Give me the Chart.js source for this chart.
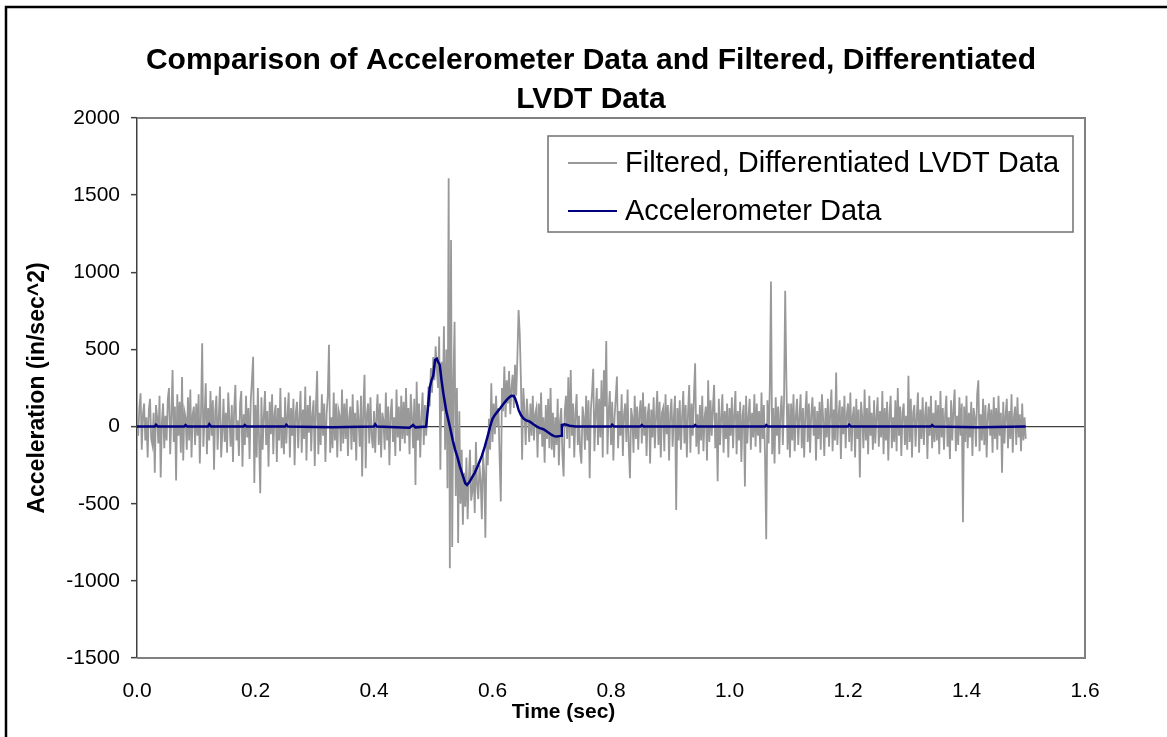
<!DOCTYPE html>
<html>
<head>
<meta charset="utf-8">
<script src="https://cdn.jsdelivr.net/npm/chart.js@4.4.1/dist/chart.umd.min.js"></script>
<style>
  html, body { margin: 0; padding: 0; background: #fff; }
  canvas { display: block; }
</style>
</head>
<body>
<canvas id="accelChart" width="1167" height="737"></canvas>
<script>
const titleLines = ['Comparison of Accelerometer Data and Filtered, Differentiated', 'LVDT Data'];
const xAxisTitle = 'Time (sec)';
const yAxisTitle = 'Acceleration (in/sec^2)';
const seriesNames = ['Filtered, Differentiated LVDT Data', 'Accelerometer Data'];
const xTicks = [0.0, 0.2, 0.4, 0.6, 0.8, 1.0, 1.2, 1.4, 1.6];
const yTicks = [-1500, -1000, -500, 0, 500, 1000, 1500, 2000];

// LVDT samples, one every 0.002 sec from t = 0
const lvdtStep = 0.002;
const lvdtValues = [
  40, -60, 120, 216, -150, 80, 150, -90, 60, -200, 110, 180, -80, -120, 90, -300, 140, 60, -110, 200, -330, 30, 150, -140, 70,
  -90, 180, 250, -180, 60, 367, -100, 130, -350, 210, -60, 160, -170, 321, -220, 100, 60, -150, 190, -90, 240, -200, 80, 130, -120,
  150, -60, 210, -240, 90, 540, -130, 60, 280, -180, 120, -90, 230, -60, 170, -280, 100, 200, -150, 60, 260, -200, -40, 180, -100,
  90, -170, 220, 50, -130, 140, -230, 110, 270, -90, 40, -190, 150, 230, -260, 80, -120, 200, -70, 120, -210, 170, 300, 453, -365,
  140, -200, 250, -80, -432, 190, -150, 60, 230, -120, 100, -260, 160, -50, 210, -180, 80, 140, -230, 120, -90, 250, -140, 60, -180,
  190, -110, 70, 220, -200, 120, -60, 180, -250, 90, 160, -140, 60, 230, -170, 110, -80, 260, -220, 140, -40, 200, -160, 80, 170,
  -255, 130, 360, -180, 90, -120, 210, -60, 150, -230, 80, 200, 530, -170, 60, -140, 220, -90, 150, -200, 110, 70, -160, 240, -110,
  150, -80, 180, -190, 60, 130, -150, 210, -100, 90, -220, 170, 40, -130, 200, -323, 120, 335, -270, 80, 150, -110, 190, -60, -140,
  100, -170, 60, 210, -120, 150, -200, 90, 40, -150, 220, -90, 130, -250, 80, 180, -100, 60, -190, 240, -70, 130, -160, 200, -80,
  160, -110, 250, -60, 120, -180, 210, 70, -140, 180, -378, 290, -90, 150, -200, 60, 220, -120, 140, -60, 90, 260, 130, 380, 220,
  450, 300, 520, 380, 250, 583, -280, 420, 100, 650, -150, 500, -400, 1610, -918, 1210, -780, 300, 680, -450, 250, -755, 100, -500, -150,
  -637, -300, -520, -200, -600, -350, -150, -480, -420, -250, -560, -100, -380, -470, -250, -350, -600, -180, -300, -720, -100, -250, 50, -150, 280,
  -100, 150, -50, 200, 0, 120, -200, -486, 250, 100, 389, 60, 300, 150, 360, 80, 250, 335, 120, 400, 200, 450, 756, 605, 300,
  -215, 250, 100, -120, 180, 60, -100, 150, -60, 200, -90, 80, 120, -200, 150, -50, 220, -130, 60, -235, 140, -80, 180, -140, 250,
  -150, 90, -200, 60, -120, 180, -250, 40, 120, -180, -324, 100, 200, -80, 320, -140, 367, -60, 150, -200, 90, 210, -120, 70, -160,
  -240, 130, 60, -150, 200, -90, 170, -335, 110, 220, 375, -160, 80, 250, -120, 180, -70, 300, -200, 365, 130, 555, -180, 90, 230,
  -120, 160, -220, 60, 190, 325, -140, 100, -60, 210, -190, 80, 150, -100, 240, -130, -335, 120, 60, -170, 200, -80, 130, -150, 90,
  170, -110, 220, -60, 130, -190, 80, 150, -240, 110, -70, 190, -140, 60, 230, -120, 160, -200, 90, 120, -160, 210, -50, 140, -220,
  80, 180, -130, 60, 200, -540, 120, -90, 170, -150, 60, 230, -110, 140, -200, 90, 270, -170, 150, -60, 200, 411, -130, 80, -180,
  140, -90, 200, -160, 60, 130, -220, 300, -100, 170, -60, 120, 270, -140, 90, -355, 180, -120, 60, 210, -170, 100, -80, 150, -200,
  120, -60, 190, -140, 80, 230, -180, 100, -90, 160, -230, 70, 140, -389, 200, -110, 60, 180, -150, 90, -70, 210, -130, 150, -60,
  100, -170, 220, -80, 140, -200, -730, 170, -110, 250, 940, -180, 120, -240, 190, -60, 130, -180, 90, 200, -120, 160, 880, 300, -150,
  150, -200, 150, -90, 210, -160, 70, 180, -120, 60, 210, -140, 120, -200, 90, 230, -100, 150, -170, 80, 190, -60, 130, -220, 100,
  -80, 160, -150, 210, 60, -190, 120, -70, 180, -130, 90, 240, -160, 110, -90, 350, -120, 60, 170, -210, 130, -50, 200, -140, 80,
  150, -100, 220, -160, 70, 130, -200, 180, -80, 110, -330, 160, 60, -140, 240, -90, 120, -180, 200, -60, 90, -150, 170, -110, 60,
  190, -130, 100, -70, 230, -180, 120, -90, 160, -220, 80, 200, -140, 60, -100, 170, -160, 250, -60, 130, -190, 90, 150, -120, 70,
  -150, 330, -100, 180, -200, 90, 140, -130, 60, 220, -170, 110, -80, 190, -120, 70, 160, -210, 130, -60, 200, -140, 90, -100, 170,
  -90, 140, -180, 230, -70, 120, -150, 80, 200, -130, 60, -210, 170, -90, 110, 240, -160, 70, -120, 190, -60, 150, -620, 130, -100,
  200, -140, 90, -70, 160, -190, 120, 60, -130, 210, 300, -160, 80, -90, 180, -120, 140, -200, 70, 150, -60, 110, -170, 190, -80,
  120, -150, 200, -60, 90, -300, 160, -110, 70, 180, -140, 100, -80, 210, -170, 60, 130, -120, 190, -70, 80, -160, 150, -90, 60,
  -80
];

// accelerometer trace (sec, in/sec^2)
const accelTimes = [
  0, 0.030, 0.032, 0.035, 0.080, 0.082, 0.085, 0.120, 0.122, 0.125, 0.180, 0.182, 0.185,
  0.250, 0.252, 0.255, 0.330, 0.400, 0.402, 0.405, 0.460, 0.466, 0.470, 0.488,
  0.491, 0.494, 0.497, 0.500, 0.503, 0.506, 0.508, 0.511, 0.514, 0.517, 0.522, 0.528,
  0.533, 0.537, 0.541, 0.545, 0.550, 0.554, 0.557, 0.561, 0.565, 0.570, 0.576, 0.582,
  0.587, 0.592, 0.596, 0.600, 0.604, 0.609, 0.613, 0.618, 0.624, 0.629, 0.632, 0.636,
  0.638, 0.641, 0.644, 0.648, 0.652, 0.657, 0.663, 0.669, 0.675, 0.680, 0.686, 0.693,
  0.700, 0.704, 0.708, 0.713, 0.716, 0.717, 0.722, 0.730, 0.740, 0.800, 0.802, 0.805,
  0.850, 0.852, 0.855, 0.940, 0.942, 0.945, 1.060, 1.062, 1.065, 1.200, 1.202, 1.205,
  1.340, 1.342, 1.345, 1.420, 1.500
];
const accelValues = [
  0, 0, 12, 0, 0, 10, 0, 0, 15, 0, 0, 10, 0,
  0, 12, 0, -5, 0, 15, 0, -8, 10, -5, 0,
  120, 250, 300, 330, 432, 440, 420, 400, 300, 216, 100, 0,
  -90, -151, -200, -259, -320, -367, -378, -360, -333, -300, -248, -190,
  -130, -60, 0, 50, 76, 100, 119, 145, 173, 192, 200, 198,
  185, 150, 108, 75, 54, 40, 32, 15, 0, -10, -17, -35,
  -54, -62, -65, -62, -60, 10, 15, 5, 0, 0, 12, 0,
  0, 10, 0, 0, 10, 0, 0, 10, 0, 0, 12, 0,
  0, 10, 0, -5, 0
];

const FONT = "'Liberation Sans', Arial, sans-serif";

const lvdtPoints = lvdtValues.map((v, i) => ({ x: +(i * lvdtStep).toFixed(3), y: v }));
const accelPoints = accelTimes.map((t, i) => ({ x: t, y: accelValues[i] }));

// white page with the black frame round it
const framePlugin = {
  id: 'frame',
  beforeDraw(chart) {
    const c = chart.ctx;
    c.save();
    c.fillStyle = '#fff';
    c.fillRect(0, 0, chart.width, chart.height);
    c.strokeStyle = '#000';
    c.lineWidth = 2.5;
    c.strokeRect(6, 7, chart.width + 10, chart.height + 10);
    c.restore();
  }
};

// gray box on top, right and bottom of the plot area
const plotBorderPlugin = {
  id: 'plotBorder',
  beforeDatasetsDraw(chart) {
    const { left, right, top, bottom } = chart.chartArea;
    const c = chart.ctx;
    c.save();
    c.strokeStyle = '#808080';
    c.lineWidth = 2;
    c.beginPath();
    c.moveTo(left, top);
    c.lineTo(right, top);
    c.lineTo(right, bottom);
    c.lineTo(left, bottom);
    c.stroke();
    c.restore();
  }
};

// chart title and x title, both sit left of the plot centre as in the original
const titlesPlugin = {
  id: 'titles',
  afterDraw(chart) {
    const c = chart.ctx;
    const xs = chart.scales.x;
    c.save();
    c.fillStyle = '#000';
    c.textAlign = 'center';
    c.textBaseline = 'middle';
    c.font = 'bold 30px ' + FONT;
    titleLines.forEach((line, i) => c.fillText(line, 591, 61 + i * 39));
    c.font = 'bold 21px ' + FONT;
    c.fillText(xAxisTitle, xs.getPixelForValue(0.72), 712);
    c.restore();
  }
};

const boxLegendPlugin = {
  id: 'boxLegend',
  afterDraw(chart) {
    const c = chart.ctx;
    const box = { x: 548, y: 136, w: 525, h: 96 };
    c.save();
    c.fillStyle = '#fff';
    c.fillRect(box.x, box.y, box.w, box.h);
    c.strokeStyle = '#707070';
    c.lineWidth = 1.5;
    c.strokeRect(box.x, box.y, box.w, box.h);
    c.font = '29px ' + FONT;
    c.textBaseline = 'middle';
    c.fillStyle = '#000';
    chart.data.datasets.forEach((ds, i) => {
      const y = box.y + 27 + i * 48;
      c.strokeStyle = ds.borderColor;
      c.lineWidth = 2;
      c.beginPath();
      c.moveTo(box.x + 20, y);
      c.lineTo(box.x + 69, y);
      c.stroke();
      c.fillText(ds.label, box.x + 77, y + 1);
    });
    c.restore();
  }
};

new Chart(document.getElementById('accelChart').getContext('2d'), {
  type: 'line',
  data: {
    datasets: [
      { label: seriesNames[0], data: lvdtPoints, borderColor: '#999999', borderWidth: 1.8, pointRadius: 0, order: 1 },
      { label: seriesNames[1], data: accelPoints, borderColor: '#000080', borderWidth: 2.5, pointRadius: 0, order: 0 }
    ]
  },
  options: {
    responsive: false,
    animation: false,
    events: [],
    layout: { padding: { left: 0, right: 82, top: 118, bottom: 0 } },
    plugins: {
      legend: { display: false },
      tooltip: { enabled: false },
      title: { display: false }
    },
    scales: {
      x: {
        type: 'linear',
        min: 0,
        max: 1.6,
        afterFit: s => { s.height = 79; },
        afterBuildTicks: s => { s.ticks = xTicks.map(v => ({ value: v })); },
        grid: { display: false },
        border: { display: false },
        ticks: {
          color: '#000',
          font: { family: FONT, size: 21 },
          padding: 13,
          maxRotation: 0,
          callback: v => v.toFixed(1)
        }
      },
      y: {
        min: -1500,
        max: 2000,
        afterFit: s => { s.width = 137; },
        afterBuildTicks: s => { s.ticks = yTicks.map(v => ({ value: v })); },
        border: { display: true, color: '#404040', width: 1.5 },
        grid: {
          color: ctx => (ctx.tick && ctx.tick.value === 0 ? '#404040' : 'rgba(0,0,0,0)'),
          lineWidth: 1.3,
          tickColor: '#404040',
          tickWidth: 1.5,
          tickLength: 6
        },
        ticks: {
          color: '#000',
          font: { family: FONT, size: 21 },
          padding: 11,
          callback: v => String(v)
        },
        title: {
          display: true,
          text: yAxisTitle,
          color: '#000',
          font: { family: FONT, size: 23, weight: 'bold' },
          padding: { top: 24, bottom: 0 }
        }
      }
    }
  },
  plugins: [framePlugin, plotBorderPlugin, titlesPlugin, boxLegendPlugin]
});
</script>
</body>
</html>
